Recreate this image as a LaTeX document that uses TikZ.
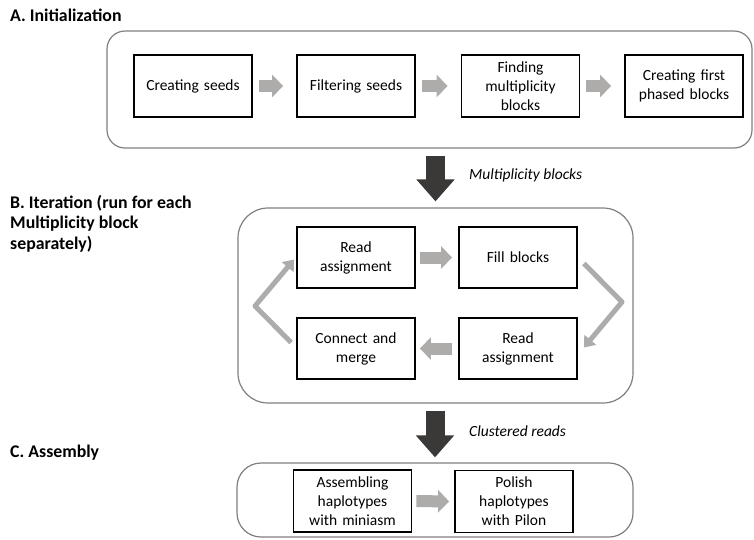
\documentclass[tikz,border=0pt]{standalone}
\usepackage{fontspec}
\setmainfont{Carlito}
\usetikzlibrary{arrows.meta,calc}
\definecolor{arrowgray}{HTML}{AEABAB}
\definecolor{darkarrow}{HTML}{3B3838}
\definecolor{framegray}{HTML}{7F7F7F}
\begin{document}
\begin{tikzpicture}[x=1pt,y=-1pt,
  title/.style={font=\fontsize{17.8}{20.5}\selectfont\bfseries, inner sep=0pt, align=left},
  steplabel/.style={font=\fontsize{15.5}{19}\selectfont\itshape, inner sep=0pt, anchor=base west},
  frame/.style={draw=framegray, line width=1.2pt, inner sep=0pt},
  stepbox/.style={draw=black, line width=1.8pt, minimum width=118pt, minimum height=62pt, inner sep=1pt, align=center, font=\fontsize{15.5}{19}\selectfont, text width=112pt},
  grayarrow/.style={draw=arrowgray, line width=12pt, -{Triangle[width=22pt,length=11pt]}},
  cyclearrow/.style={draw=arrowgray, line width=5pt, line join=round, -{Triangle[width=15pt,length=10pt]}},
  bigarrow/.style={draw=darkarrow, line width=19pt, -{Triangle[width=37pt,length=22pt]}}
]
\useasboundingbox (0,0) rectangle (754,539);

% titles
\node[title, anchor=base west] (tA) at (10,21) {A. Initialization};
\node[title, anchor=north west] (tB) at (10,195) {B. Iteration (run for each\\Multiplicity block\\separately)};
\node[title, anchor=base west] (tC) at (10,457) {C. Assembly};

% containers
\node[frame, rounded corners=18pt, minimum width=645pt, minimum height=117pt] (A) at (429.5,89.5) {};
\node[frame, rounded corners=30pt, minimum width=395pt, minimum height=195pt] (B) at (435.5,305.5) {};
\node[frame, rounded corners=24pt, minimum width=396pt, minimum height=74pt] (C) at (435,500) {};

% A boxes
\node[stepbox] (a1) at (193,86) {Creating seeds};
\node[stepbox] (a2) at (356,86) {Filtering seeds};
\node[stepbox] (a3) at (520.5,86) {Finding\\multiplicity\\blocks};
\node[stepbox] (a4) at (684,86) {Creating first\\phased blocks};

\draw[grayarrow, shorten <=6pt, shorten >=13pt] (a1.east) -- (a2.west);
\draw[grayarrow, shorten <=6pt, shorten >=13pt] (a2.east) -- (a3.west);
\draw[grayarrow, shorten <=6pt, shorten >=13pt] (a3.east) -- (a4.west);

% B boxes
\node[stepbox, minimum height=61pt] (ra) at (356,257.5) {Read\\assignment};
\node[stepbox, minimum height=61pt] (fb) at (518,257.5) {Fill blocks};
\node[stepbox, minimum height=61pt] (rb) at (518,348.5) {Read\\assignment};
\node[stepbox, minimum height=61pt] (cm) at (356,348.5) {Connect and\\merge};

\draw[grayarrow, shorten <=4pt, shorten >=6pt] (ra.east) -- (fb.west);
\draw[grayarrow, shorten <=6pt, shorten >=4pt] (rb.west) -- (cm.east);
\draw[cyclearrow] ($(fb.east)+(6,6)$) -- (622,302) -- ($(rb.east)+(6,-1)$);
\draw[cyclearrow] ($(cm.west)+(-5,-6)$) -- (255,306) -- ($(ra.west)+(-2,2)$);

% C boxes
\node[stepbox] (c1) at (352.5,501) {Assembling\\haplotypes\\with miniasm};
\node[stepbox] (c2) at (514,501.5) {Polish\\haplotypes\\with Pilon};
\draw[grayarrow, shorten <=4pt, shorten >=5pt] (c1.east) -- (c2.west);

% big arrows
\draw[bigarrow, shorten <=7pt, shorten >=6pt] (A.south -| B.north) -- (B.north);
\draw[bigarrow, shorten <=7pt, shorten >=5pt] (B.south -| C.north) -- (C.north);
\node[steplabel] (l1) at (469,179) {Multiplicity blocks};
\node[steplabel] (l2) at (469,436) {Clustered reads};
\end{tikzpicture}
\end{document}
